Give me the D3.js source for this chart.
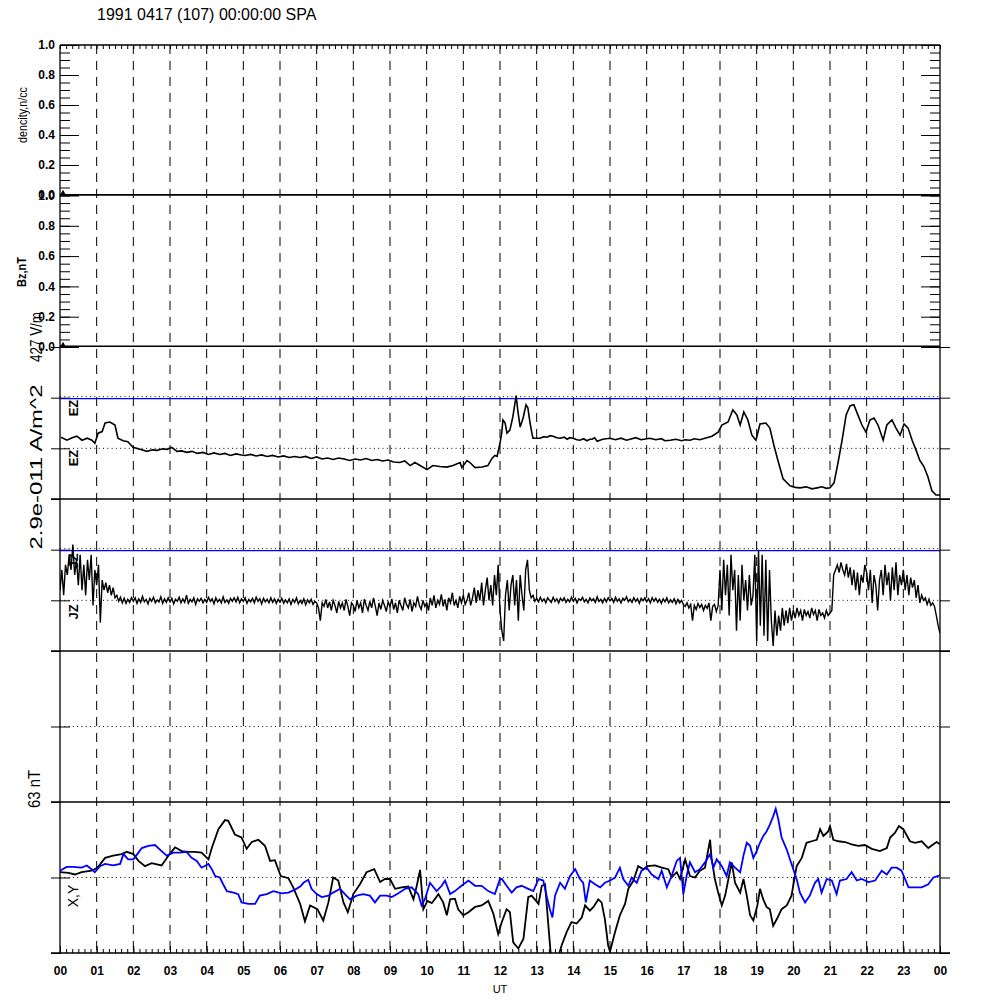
<!DOCTYPE html>
<html><head><meta charset="utf-8">
<script src="https://cdn.jsdelivr.net/npm/d3@7"></script>
<style>
body{margin:0;background:#fff;}
svg{display:block;font-family:"Liberation Sans",Arial,Helvetica,sans-serif;}
</style></head><body>
<svg id="chart" width="1000" height="1000"></svg>
<script>
// ---------------- DATA ----------------
const titleText = "1991 0417 (107) 00:00:00 SPA";
const hourTicks = [0,1,2,3,4,5,6,7,8,9,10,11,12,13,14,15,16,17,18,19,20,21,22,23,24];
const hourLabels = ["00","01","02","03","04","05","06","07","08","09","10","11","12","13","14","15","16","17","18","19","20","21","22","23","00"];
const unitTicks = [0,0.2,0.4,0.6,0.8,1.0];
const panelLabels = ["dencity,n/cc","Bz,nT","427 V/m","2.9e-011 A/m^2","63 nT"];

// density and Bz are flat at zero all day
const densityHours = [0,24];
const densityValues = [0,0];
const bzHours = [0,24];
const bzValues = [0,0];

// EZ (units of panel scale, 0 = lower dotted line, 1 = blue line)
const ezHours = [0.03,0.19,0.33,0.46,0.60,0.74,0.87,0.95,1.04,1.15,1.23,1.36,1.50,1.58,1.72,1.85,1.99,2.18,2.37,2.52,2.65,2.80,2.92,3.05,3.19,3.32,3.46,3.60,3.74,3.90,4.05,4.20,4.36,4.50,4.65,4.80,4.95,5.05,5.20,5.35,5.50,5.65,5.80,5.95,6.10,6.25,6.40,6.55,6.70,6.85,7.00,7.15,7.30,7.45,7.60,7.75,7.90,8.05,8.20,8.35,8.50,8.65,8.80,8.95,9.10,9.27,9.40,9.55,9.68,9.82,10.01,10.17,10.36,10.55,10.72,10.91,10.96,11.10,11.18,11.32,11.51,11.67,11.78,11.86,11.92,12.00,12.05,12.08,12.14,12.19,12.27,12.35,12.44,12.49,12.55,12.63,12.71,12.76,12.82,12.87,12.90,13.09,13.20,13.28,13.37,13.45,13.55,13.64,13.75,13.83,13.90,13.99,14.10,14.18,14.28,14.37,14.45,14.51,14.58,14.65,14.80,15.00,15.15,15.30,15.45,15.55,15.70,15.85,16.00,16.09,16.25,16.40,16.50,16.64,16.80,16.95,17.05,17.18,17.30,17.45,17.59,17.78,17.95,18.05,18.22,18.35,18.46,18.55,18.65,18.76,18.87,18.98,19.09,19.25,19.36,19.47,19.58,19.72,19.91,20.05,20.18,20.35,20.51,20.65,20.78,20.90,21.00,21.11,21.22,21.33,21.44,21.55,21.65,21.76,21.87,21.98,22.09,22.20,22.31,22.45,22.55,22.69,22.80,22.91,23.02,23.13,23.24,23.35,23.45,23.56,23.67,23.78,23.89,24.00];
const ezValues = [0.22,0.16,0.21,0.24,0.16,0.20,0.16,0.10,0.30,0.33,0.50,0.52,0.46,0.20,0.15,0.13,0.02,-0.02,-0.06,-0.03,-0.04,-0.01,-0.02,0.02,-0.06,-0.05,-0.08,-0.06,-0.10,-0.08,-0.12,-0.09,-0.12,-0.10,-0.14,-0.11,-0.13,-0.14,-0.12,-0.15,-0.13,-0.16,-0.14,-0.17,-0.15,-0.18,-0.16,-0.18,-0.16,-0.20,-0.17,-0.21,-0.19,-0.22,-0.19,-0.21,-0.24,-0.21,-0.23,-0.20,-0.24,-0.22,-0.25,-0.23,-0.27,-0.28,-0.25,-0.34,-0.28,-0.34,-0.42,-0.34,-0.36,-0.37,-0.34,-0.28,-0.38,-0.24,-0.28,-0.38,-0.37,-0.34,-0.20,-0.14,-0.16,0.10,0.32,0.56,0.50,0.30,0.36,0.62,1.04,0.72,0.42,0.60,0.86,0.80,0.50,0.30,0.20,0.20,0.23,0.22,0.25,0.24,0.21,0.20,0.22,0.18,0.21,0.20,0.17,0.16,0.19,0.15,0.18,0.18,0.21,0.14,0.18,0.20,0.17,0.20,0.16,0.18,0.21,0.17,0.19,0.20,0.17,0.19,0.15,0.16,0.18,0.15,0.17,0.16,0.19,0.17,0.20,0.24,0.32,0.46,0.52,0.76,0.66,0.46,0.72,0.56,0.26,0.16,0.48,0.50,0.40,0.06,-0.24,-0.60,-0.74,-0.77,-0.78,-0.76,-0.80,-0.78,-0.76,-0.79,-0.78,-0.68,-0.28,0.16,0.66,0.84,0.86,0.66,0.46,0.32,0.56,0.60,0.46,0.16,0.46,0.56,0.40,0.26,0.48,0.40,0.16,-0.04,-0.24,-0.36,-0.56,-0.84,-0.92,-0.92];

// JZ sampled every 0.05 h from 00 UT (20 samples per hour)
const jzStepHours = 0.05;
const jzValues = [
 0.2,0.6,0.1,0.7,0.5,0.9,0.6,1.1,0.5,0.8,0.3,0.9,0.2,0.7,0.1,0.8,0.4,0.9,-0.1,0.6,
 0.3,0.7,-0.44,0.4,0.2,0.35,0.15,0.3,0.1,0.25,0.05,0.1,-0.02,0.06,-0.05,0.04,-0.06,0.02,-0.04,0.05,
 -0.02,0.05,-0.06,0.03,-0.04,0.08,-0.03,0.02,-0.07,0.04,-0.02,0.06,-0.05,0.01,-0.03,0.07,-0.06,0.03,-0.04,0.05,
 -0.03,0.04,-0.07,0.02,-0.02,0.06,-0.05,0.03,-0.04,0.10,-0.06,0.02,-0.03,0.05,-0.08,0.03,-0.02,0.04,-0.05,0.02,
 -0.04,0.06,-0.02,0.03,-0.07,0.05,-0.03,0.02,-0.05,0.07,-0.04,0.01,-0.06,0.04,-0.02,0.05,-0.03,0.06,-0.05,0.03,
 -0.02,0.05,-0.06,0.02,-0.03,0.04,-0.05,0.06,-0.02,0.03,-0.07,0.04,-0.03,0.02,-0.05,0.05,-0.04,0.03,-0.06,0.02,
 -0.04,0.04,-0.06,0.01,-0.05,0.03,-0.08,0.02,-0.04,0.05,-0.07,0.0,-0.06,0.03,-0.09,0.01,-0.05,0.02,-0.08,-0.02,
 -0.05,-0.15,-0.40,-0.05,-0.12,0.02,-0.15,-0.03,-0.2,0.0,-0.1,-0.25,-0.02,-0.15,-0.05,-0.2,0.02,-0.12,-0.3,-0.05,
 -0.1,-0.22,0.0,-0.15,-0.05,-0.25,0.02,-0.1,-0.2,-0.02,-0.15,0.05,-0.12,-0.3,-0.05,-0.18,0.0,-0.1,-0.22,-0.03,
 -0.12,0.03,-0.18,-0.05,-0.25,0.0,-0.1,-0.2,0.05,-0.08,-0.15,0.02,-0.22,-0.05,-0.12,0.08,-0.1,-0.18,0.0,-0.12,
 -0.05,-0.2,0.05,-0.1,0.1,-0.15,0.0,-0.08,0.12,-0.12,0.02,-0.2,0.05,-0.05,0.15,-0.1,0.0,-0.15,0.08,-0.05,
 0.1,-0.08,0.0,0.15,-0.1,0.05,0.25,-0.05,0.2,0.0,0.35,-0.1,0.2,0.45,0.0,0.3,-0.1,0.5,0.1,0.7,
 -0.2,-0.6,-0.8,0.1,0.4,-0.2,0.3,0.5,-0.1,0.4,-0.4,0.5,0.1,-0.2,0.6,0.8,0.2,0.05,0.1,-0.02,
 0.04,-0.03,0.06,-0.02,0.03,-0.05,0.05,0.0,-0.04,0.06,-0.02,0.03,-0.05,0.04,-0.01,0.05,-0.04,0.02,-0.03,0.06,
 -0.02,0.04,-0.05,0.03,0.0,0.06,-0.03,0.02,-0.05,0.05,-0.01,0.03,-0.04,0.07,-0.02,0.02,-0.05,0.04,-0.03,0.05,
 -0.01,0.04,-0.04,0.06,-0.02,0.03,-0.05,0.04,0.0,0.07,-0.03,0.02,-0.04,0.05,-0.02,0.03,-0.06,0.04,-0.01,0.05,
 -0.03,0.03,-0.05,0.05,-0.02,0.04,-0.04,0.02,-0.06,0.03,-0.03,0.05,-0.05,0.01,-0.04,0.03,-0.07,0.02,-0.05,0.0,
 -0.08,-0.12,-0.05,-0.15,-0.08,-0.40,-0.1,-0.18,-0.06,-0.14,-0.08,-0.2,-0.1,-0.16,-0.05,-0.4,-0.12,-0.08,-0.22,-0.1,
 0.6,-0.2,0.8,0.1,0.7,-0.3,0.9,0.2,0.6,-0.6,0.5,-0.4,0.7,0.0,0.4,-0.2,0.5,-0.1,0.1,0.9,
 -0.8,1.0,-0.5,0.9,-0.7,0.8,-0.8,0.6,-0.4,-0.9,-0.2,-0.7,-0.3,-0.6,-0.15,-0.5,-0.2,-0.45,-0.15,-0.4,
 -0.2,-0.35,-0.15,-0.3,-0.2,-0.4,-0.18,-0.3,-0.22,-0.35,-0.15,-0.28,-0.2,-0.4,-0.18,-0.3,-0.25,-0.35,-0.2,-0.3,
 -0.25,-0.2,0.5,0.6,0.7,0.55,0.75,0.6,0.5,0.72,0.45,0.65,0.3,0.6,0.2,0.55,0.1,0.5,0.35,0.7,
 0.55,0.2,0.6,-0.05,0.5,0.3,-0.2,0.4,0.6,0.1,0.7,0.3,0.55,0.0,0.65,0.2,0.75,0.1,0.5,0.3,
 0.6,0.2,0.5,0.1,0.45,0.25,0.4,0.05,0.3,-0.05,0.1,0.0,0.05,-0.08,0.02,-0.1,-0.05,-0.12,-0.3,-0.5,
 -0.65];

// magnetometer X (black) and Y (blue), units of 63 nT
const magXHours = [0.00,0.23,0.41,0.59,0.86,1.02,1.23,1.45,1.68,1.82,2.00,2.14,2.32,2.50,2.77,3.02,3.14,3.32,3.50,3.68,3.86,4.05,4.14,4.32,4.50,4.59,4.77,4.95,5.09,5.23,5.41,5.59,5.73,5.86,6.02,6.23,6.36,6.55,6.68,6.82,7.02,7.18,7.32,7.45,7.59,7.73,7.85,8.00,8.18,8.36,8.57,8.73,8.86,9.00,9.14,9.32,9.50,9.64,9.73,9.82,9.91,10.02,10.14,10.32,10.45,10.55,10.64,10.77,10.86,11.00,11.14,11.32,11.50,11.68,11.82,11.95,12.05,12.18,12.27,12.36,12.50,12.64,12.77,12.86,12.95,13.05,13.14,13.23,13.32,13.39,13.59,13.68,13.82,13.95,14.09,14.23,14.32,14.45,14.55,14.68,14.77,14.86,14.95,15.00,15.14,15.27,15.41,15.50,15.64,15.77,15.91,16.02,16.23,16.41,16.59,16.68,16.82,16.91,17.05,17.18,17.32,17.45,17.59,17.73,17.77,17.86,17.95,18.05,18.14,18.23,18.32,18.41,18.55,18.64,18.73,18.82,18.91,19.02,19.09,19.18,19.27,19.36,19.45,19.55,19.68,19.82,19.95,20.09,20.23,20.36,20.50,20.64,20.73,20.82,20.95,21.00,21.09,21.23,21.41,21.59,21.77,21.95,22.14,22.36,22.55,22.64,22.77,22.88,23.00,23.18,23.32,23.50,23.68,23.82,23.91,24.00];
const magXValues = [0.07,0.06,0.04,0.07,0.09,0.13,0.26,0.29,0.31,0.34,0.31,0.22,0.15,0.19,0.16,0.33,0.40,0.35,0.34,0.34,0.33,0.24,0.39,0.64,0.76,0.75,0.57,0.53,0.38,0.47,0.50,0.42,0.22,0.23,0.02,-0.01,-0.13,-0.35,-0.58,-0.37,-0.42,-0.57,-0.33,0.00,-0.04,-0.33,-0.46,-0.22,-0.09,0.07,0.11,-0.06,-0.02,-0.02,-0.15,-0.13,-0.12,-0.29,-0.11,0.10,-0.42,-0.31,-0.34,-0.22,-0.33,-0.50,-0.29,-0.28,-0.42,-0.50,-0.46,-0.39,-0.37,-0.31,-0.48,-0.75,-0.59,-0.42,-0.46,-0.86,-0.94,-0.81,-0.26,-0.24,-0.29,-0.35,-0.11,-0.09,-0.64,-1.05,-1.05,-0.90,-0.72,-0.59,-0.61,-0.53,-0.37,-0.44,-0.39,-0.29,-0.33,-0.55,-0.90,-0.98,-0.72,-0.50,-0.35,-0.15,-0.04,0.15,0.11,0.15,0.16,0.13,0.11,0.00,0.07,-0.02,0.24,0.02,0.00,0.09,0.13,0.50,0.26,-0.02,-0.20,-0.37,-0.24,-0.02,0.20,-0.07,-0.20,-0.02,-0.24,-0.50,-0.57,-0.37,-0.15,-0.29,-0.39,-0.42,-0.64,-0.55,-0.42,-0.37,-0.24,0.15,0.26,0.46,0.48,0.50,0.64,0.55,0.61,0.68,0.50,0.48,0.47,0.44,0.42,0.43,0.38,0.35,0.39,0.53,0.59,0.68,0.64,0.48,0.46,0.48,0.39,0.44,0.47,0.44];
const magYHours = [0.00,0.18,0.36,0.59,0.73,0.86,0.95,1.09,1.23,1.45,1.64,1.73,1.86,2.00,2.14,2.23,2.41,2.59,2.77,2.91,3.09,3.27,3.45,3.59,3.73,3.86,4.05,4.14,4.23,4.36,4.45,4.55,4.73,4.86,4.95,5.14,5.32,5.45,5.64,5.82,6.05,6.23,6.41,6.55,6.64,6.77,6.86,7.00,7.14,7.32,7.45,7.64,7.77,7.91,8.09,8.27,8.45,8.59,8.73,8.91,9.05,9.23,9.41,9.59,9.77,9.86,9.95,10.09,10.27,10.41,10.50,10.64,10.77,10.95,11.14,11.32,11.50,11.68,11.86,12.00,12.05,12.18,12.32,12.45,12.59,12.77,12.91,13.05,13.18,13.27,13.36,13.43,13.50,13.64,13.77,13.91,14.05,14.18,14.27,14.34,14.45,14.59,14.73,14.86,15.00,15.14,15.27,15.36,15.50,15.59,15.73,15.86,16.00,16.14,16.32,16.41,16.55,16.68,16.82,16.91,17.00,17.09,17.18,17.32,17.45,17.59,17.73,17.82,17.91,18.05,18.18,18.27,18.41,18.55,18.64,18.73,18.82,18.91,19.00,19.09,19.18,19.27,19.36,19.45,19.52,19.59,19.68,19.82,19.95,20.09,20.18,20.32,20.45,20.59,20.68,20.77,20.91,21.05,21.18,21.27,21.45,21.59,21.73,21.86,22.05,22.23,22.41,22.55,22.68,22.82,22.95,23.14,23.32,23.50,23.68,23.82,24.00];
const magYValues = [0.09,0.14,0.14,0.13,0.16,0.11,0.07,0.15,0.18,0.16,0.18,0.31,0.24,0.24,0.33,0.39,0.42,0.43,0.35,0.29,0.33,0.33,0.34,0.26,0.22,0.13,0.18,0.11,0.02,0.00,-0.09,-0.18,-0.20,-0.22,-0.33,-0.35,-0.35,-0.24,-0.22,-0.18,-0.21,-0.20,-0.16,-0.12,-0.07,-0.03,-0.15,-0.22,-0.26,-0.24,-0.20,-0.15,-0.22,-0.29,-0.24,-0.22,-0.24,-0.33,-0.24,-0.24,-0.26,-0.21,-0.15,-0.13,-0.22,-0.37,-0.29,-0.07,-0.18,-0.11,-0.04,-0.22,-0.18,-0.11,-0.04,-0.11,-0.11,-0.18,-0.22,-0.02,-0.02,-0.11,-0.20,-0.13,-0.11,-0.15,-0.18,-0.02,-0.04,-0.24,-0.42,-0.53,-0.24,-0.07,-0.15,0.02,0.11,-0.02,-0.07,-0.33,-0.04,-0.09,-0.13,-0.07,-0.04,0.00,0.13,-0.02,-0.11,0.00,-0.07,0.09,0.13,0.04,-0.02,0.09,-0.13,0.02,0.22,0.26,-0.22,0.02,0.20,0.07,0.11,0.20,0.31,0.13,0.24,0.15,0.02,0.20,0.13,0.07,0.29,0.46,0.42,0.26,0.35,0.46,0.55,0.61,0.70,0.81,0.91,0.77,0.53,0.37,0.18,-0.02,-0.20,-0.33,-0.24,-0.07,-0.02,-0.20,-0.02,-0.04,-0.22,-0.04,-0.02,0.07,-0.04,-0.02,-0.06,-0.04,0.09,0.04,0.13,0.13,0.09,-0.13,-0.13,-0.13,-0.09,0.00,0.03];

// ---------------- CHART ----------------
const svg = d3.select("#chart");
const x = d3.scaleLinear().domain([0, 24]).range([60, 940]);
const X0 = 60, X1 = 940;

const panels = [
  {top: 45,    bottom: 195, domain: [0, 1]},
  {top: 195.5, bottom: 347, domain: [0, 1]},
  {top: 347,   bottom: 499, domain: [-1, 2]},
  {top: 499,   bottom: 651, domain: [-1, 2]},
  {top: 651,   bottom: 802, domain: [-1, 1]},
  {top: 802,   bottom: 953, domain: [-1, 1]}
];
panels.forEach(p => { p.y = d3.scaleLinear().domain(p.domain).range([p.bottom, p.top]); });

const defs = svg.append("defs");
panels.forEach((p, i) => {
  defs.append("clipPath").attr("id", "clip" + i)
    .append("rect").attr("x", X0).attr("y", p.top).attr("width", X1 - X0).attr("height", p.bottom - p.top);
});

// title
svg.append("text").attr("x", 97).attr("y", 20).attr("font-size", 16).text(titleText);

// dashed hour grid
svg.append("g").selectAll("line").data(hourTicks.slice(1, -1)).join("line")
  .attr("x1", d => x(d)).attr("x2", d => x(d))
  .attr("y1", 45).attr("y2", 953)
  .attr("stroke", "#000").attr("stroke-width", 1).attr("stroke-dasharray", "9,7");

// panel 1 & 2 axes
const minorTicks = d3.range(0, 1.0001, 0.05);
[0, 1].forEach(i => {
  const p = panels[i];
  const g = svg.append("g");
  g.append("g").attr("transform", `translate(${X0},0)`)
    .call(d3.axisLeft(p.y).tickValues(minorTicks).tickSize(-10).tickFormat(""))
    .call(a => a.select(".domain").remove());
  g.append("g").attr("transform", `translate(${X0},0)`)
    .call(d3.axisLeft(p.y).tickValues(unitTicks).tickSize(-19).tickPadding(5).tickFormat(d3.format(".1f")))
    .call(a => a.select(".domain").remove())
    .call(a => a.selectAll("text").attr("font-size", 12).attr("font-weight", "bold").attr("fill", "#000"));
  g.append("g").attr("transform", `translate(${X1},0)`)
    .call(d3.axisRight(p.y).tickValues(minorTicks).tickSize(-10).tickFormat(""))
    .call(a => a.select(".domain").remove());
  g.append("g").attr("transform", `translate(${X1},0)`)
    .call(d3.axisRight(p.y).tickValues(unitTicks).tickSize(-19).tickFormat(""))
    .call(a => a.select(".domain").remove());
  g.selectAll("line").attr("stroke", "#000");
});

const minorHours = d3.range(0, 24.0001, 1/6);
svg.append("g").attr("transform", `translate(0,45)`)
  .call(d3.axisTop(x).tickValues(minorHours).tickSize(-4).tickFormat(""))
  .call(a => a.select(".domain").remove());

// panels 3-6 : side ticks, reference lines
const refLines = [
  {panel: 2, dotted: [1, 0], blue: 1, ticks: [-1, 0, 1, 2]},
  {panel: 3, dotted: [1, 0], blue: 1, ticks: [-1, 0, 1, 2]},
  {panel: 4, dotted: [0], blue: null, ticks: [-1, 0, 1]},
  {panel: 5, dotted: [0], blue: null, ticks: [-1, 0, 1]}
];
refLines.forEach(r => {
  const p = panels[r.panel];
  svg.append("g").attr("transform", `translate(${X0},0)`)
    .call(d3.axisLeft(p.y).tickValues(r.ticks).tickSize(9).tickFormat(""))
    .call(a => a.select(".domain").remove());
  svg.append("g").attr("transform", `translate(${X1},0)`)
    .call(d3.axisRight(p.y).tickValues(r.ticks).tickSize(10).tickFormat(""))
    .call(a => a.select(".domain").remove());
  svg.append("g").attr("transform", `translate(${X0},0)`)
    .call(d3.axisLeft(p.y).tickValues(r.dotted).tickSize(-10).tickFormat(""))
    .call(a => a.select(".domain").remove());
  r.dotted.forEach(v => {
    const yy = p.y(v) - (v === r.blue ? 1 : 0);
    svg.append("line").attr("x1", X0).attr("x2", X1).attr("y1", yy).attr("y2", yy)
      .attr("stroke", "#000").attr("stroke-width", 1).attr("stroke-dasharray", "1,3.3");
  });
  if (r.blue !== null) {
    svg.append("line").attr("x1", X0).attr("x2", X1).attr("y1", p.y(r.blue) + 1).attr("y2", p.y(r.blue) + 1)
      .attr("stroke", "#0000ff").attr("stroke-width", 1.2);
  }
});

// frame lines
const frame = svg.append("g").attr("stroke", "#000").attr("stroke-width", 1.3);
frame.append("line").attr("x1", X0).attr("x2", X0).attr("y1", 45).attr("y2", 954);
frame.append("line").attr("x1", X1).attr("x2", X1).attr("y1", 45).attr("y2", 954);
frame.append("line").attr("x1", X0).attr("x2", X1).attr("y1", 45).attr("y2", 45);
frame.append("line").attr("x1", X0).attr("x2", X1).attr("y1", 195).attr("y2", 195);
[499, 651, 802, 953].forEach(yy => {
  frame.append("line").attr("x1", 51).attr("x2", 950).attr("y1", yy).attr("y2", yy);
});

// bottom axis
svg.append("g").attr("transform", `translate(0,953)`)
  .call(d3.axisBottom(x).tickValues(minorHours).tickSize(-4).tickFormat(""))
  .call(a => a.select(".domain").remove());
svg.append("g").attr("transform", `translate(0,953)`)
  .call(d3.axisBottom(x).tickValues(hourTicks).tickSize(-7).tickPadding(13).tickFormat((d, i) => hourLabels[i]))
  .call(a => a.select(".domain").remove())
  .call(a => a.selectAll("text").attr("font-size", 12).attr("font-weight", "bold").attr("fill", "#000"));
svg.append("text").attr("x", 500).attr("y", 993).attr("text-anchor", "middle").attr("font-size", 11).text("UT");

// data lines
const line = (p) => d3.line().x(d => x(d[0])).y(d => p.y(d[1]));
function drawSeries(i, hrs, vals, color, width) {
  const pts = hrs.map((h, k) => [h, vals[k]]);
  svg.append("path").datum(pts).attr("clip-path", `url(#clip${i})`)
    .attr("d", line(panels[i])).attr("fill", "none").attr("stroke", color)
    .attr("stroke-width", width).attr("stroke-linejoin", "miter");
}
drawSeries(0, densityHours, densityValues, "#000", 2);
drawSeries(1, bzHours, bzValues, "#000", 3);
drawSeries(2, ezHours, ezValues, "#000", 1.6);
drawSeries(3, jzValues.map((v, k) => k * jzStepHours), jzValues, "#000", 1.4);
drawSeries(5, magXHours, magXValues, "#000", 1.8);
drawSeries(5, magYHours, magYValues, "#0000ff", 1.8);

[0, 1].forEach(i => {
  svg.append("path").attr("d", d3.symbol(d3.symbolTriangle, 14)())
    .attr("transform", `translate(${x(0) + 3},${panels[i].y(0) - 2})`).attr("fill", "#000");
});

// labels
function vlabel(txt, cx, cy, size, weight, len) {
  const t = svg.append("text").attr("transform", `translate(${cx},${cy}) rotate(-90)`)
    .attr("text-anchor", "middle").attr("dominant-baseline", "central")
    .attr("font-size", size).attr("font-weight", weight).text(txt);
  if (len) t.attr("textLength", len).attr("lengthAdjust", "spacingAndGlyphs");
}
vlabel(panelLabels[0], 23, 115, 12, "normal", 56);
vlabel(panelLabels[1], 22, 272, 12, "bold", 30);
vlabel(panelLabels[2], 36, 337, 16, "normal", 50);
vlabel(panelLabels[3], 36, 467, 16, "normal", 165);
vlabel(panelLabels[4], 34, 789, 16, "normal", 38);
vlabel("EZ", 73, 408, 13, "bold");
vlabel("EZ", 73, 458, 13, "bold");
vlabel("JZ", 73, 561, 13, "bold");
vlabel("JZ", 73, 612, 13, "bold");
vlabel("X,Y", 73, 896, 14, "normal");
</script></body></html>
